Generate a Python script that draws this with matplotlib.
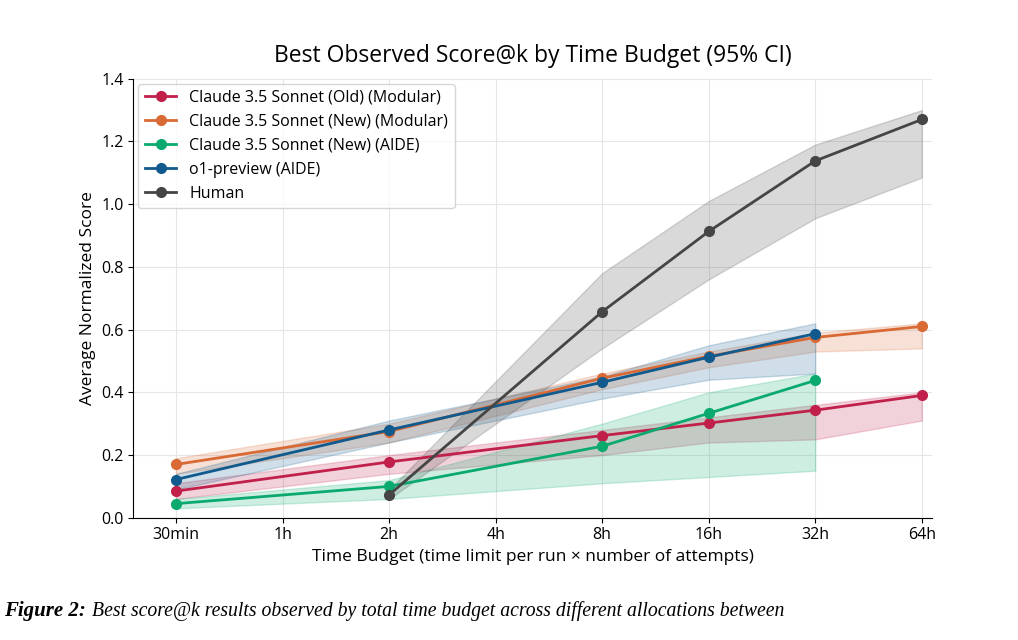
import matplotlib
matplotlib.use("Agg")
import matplotlib.pyplot as plt
import numpy as np

ticks = ["30min", "1h", "2h", "4h", "8h", "16h", "32h", "64h"]
old_x = [0, 2, 4, 5, 6, 7]
old_y = [0.085, 0.178, 0.262, 0.302, 0.343, 0.390]
old_lo = [0.060, 0.140, 0.200, 0.240, 0.250, 0.310]
old_hi = [0.110, 0.200, 0.280, 0.320, 0.360, 0.400]
newm_x = [0, 2, 4, 5, 6, 7]
newm_y = [0.170, 0.275, 0.445, 0.515, 0.575, 0.610]
newm_lo = [0.140, 0.240, 0.410, 0.480, 0.530, 0.540]
newm_hi = [0.190, 0.300, 0.460, 0.530, 0.590, 0.620]
aide_x = [0, 2, 4, 5, 6]
aide_y = [0.045, 0.100, 0.228, 0.333, 0.438]
aide_lo = [0.030, 0.060, 0.110, 0.130, 0.150]
aide_hi = [0.060, 0.120, 0.300, 0.400, 0.460]
o1_x = [0, 2, 4, 5, 6]
o1_y = [0.122, 0.280, 0.432, 0.512, 0.587]
o1_lo = [0.090, 0.240, 0.380, 0.440, 0.460]
o1_hi = [0.140, 0.310, 0.450, 0.550, 0.620]
hum_x = [2, 4, 5, 6, 7]
hum_y = [0.073, 0.657, 0.913, 1.138, 1.270]
hum_lo = [0.060, 0.540, 0.760, 0.955, 1.085]
hum_hi = [0.090, 0.780, 1.010, 1.190, 1.300]

plt.rcParams['font.family'] = ['Open Sans', 'DejaVu Sans']
fig = plt.figure(figsize=(10.18, 6.4), dpi=100)
ax = fig.add_axes([0.131, 0.191, 0.785, 0.686])

series = [
    ("Claude 3.5 Sonnet (Old) (Modular)", "#c0204a", old_x, old_y, old_lo, old_hi),
    ("Claude 3.5 Sonnet (New) (Modular)", "#d96a35", newm_x, newm_y, newm_lo, newm_hi),
    ("Claude 3.5 Sonnet (New) (AIDE)", "#0aaa6e", aide_x, aide_y, aide_lo, aide_hi),
    ("o1-preview (AIDE)", "#105a8e", o1_x, o1_y, o1_lo, o1_hi),
    ("Human", "#454545", hum_x, hum_y, hum_lo, hum_hi),
]
for name, c, x, y, lo, hi in series:
    ax.fill_between(x, lo, hi, color=c, alpha=0.2, lw=1)
    ax.plot(x, y, color=c, lw=2, marker='o', ms=7, label=name)

ax.set_xticks(range(len(ticks)))
ax.set_xticklabels(ticks, fontsize=11.5)
ax.set_xlim(-0.4, 7.1)
ax.set_ylim(0, 1.4)
ax.set_yticks(np.arange(0, 1.41, 0.2))
ax.set_yticklabels([f"{v:.1f}" for v in np.arange(0, 1.41, 0.2)], fontsize=11.5)
ax.grid(True, color="#e6e6e6", lw=0.8)
ax.set_axisbelow(True)
for s in ["top", "right"]:
    ax.spines[s].set_visible(False)
ax.set_xlabel("Time Budget (time limit per run × number of attempts)", fontsize=12.5)
ax.set_ylabel("Average Normalized Score", fontsize=12.5)
ax.set_title("Best Observed Score@k by Time Budget (95% CI)", fontsize=16.5, pad=12)
ax.legend(loc="upper left", fontsize=11.5, frameon=True, borderaxespad=0.3)

t1 = fig.text(0.004, 0.038, "Figure 2:", ha="left", fontsize=15,
              family="Liberation Serif", style="italic", weight="bold")
fig.canvas.draw()
bb = t1.get_window_extent()
x2 = (bb.x1 + 6) / fig.bbox.width
fig.text(x2, 0.038, "Best score@k results observed by total time budget across different allocations between",
         ha="left", fontsize=14.2, family="Liberation Serif", style="italic")
fig.savefig("out.png")
